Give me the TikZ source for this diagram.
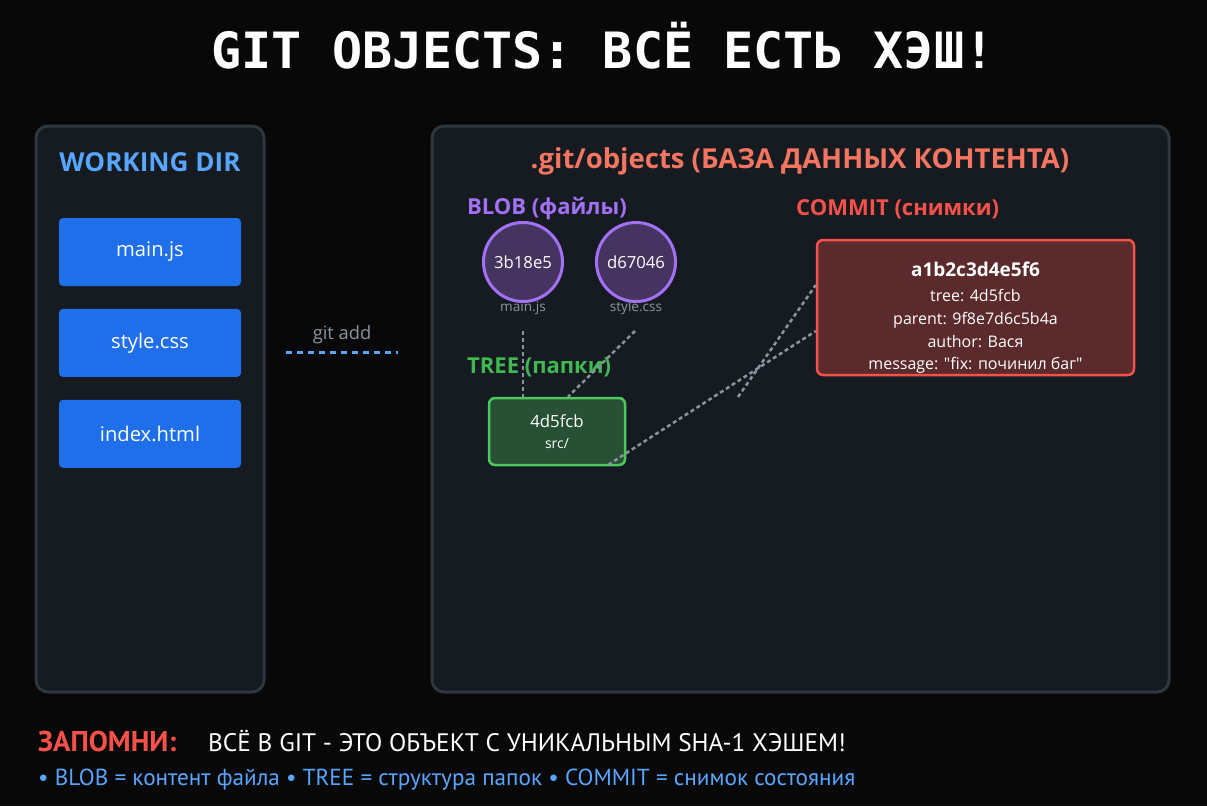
\documentclass[tikz,border=0pt]{standalone}
\usepackage{fontspec}
\setmainfont{Open Sans}[Ligatures=TeXOff]
\newfontfamily\titlefont{DejaVu Sans Mono}
\newfontfamily\notefont{PT Sans}
\usetikzlibrary{positioning}

\definecolor{pagebg}{HTML}{080808}
\definecolor{panelbg}{HTML}{161B22}
\definecolor{panelline}{HTML}{30363D}
\definecolor{fileblue}{HTML}{1F6FEB}
\definecolor{lightblue}{HTML}{58A6FF}
\definecolor{dbsalmon}{HTML}{F47560}
\definecolor{blobpurple}{HTML}{A371F7}
\definecolor{blobfill}{HTML}{45345F}
\definecolor{treegreen}{HTML}{3FB950}
\definecolor{treeline}{HTML}{4CC95C}
\definecolor{treefill}{HTML}{285034}
\definecolor{commitred}{HTML}{F85149}
\definecolor{commitfill}{HTML}{5A2A2D}
\definecolor{linkgray}{HTML}{8B949E}

\begin{document}
\begin{tikzpicture}[x=1pt,y=-1pt,node distance=22.5pt,
  panel/.style={draw=panelline,line width=3pt,fill=panelbg,rounded corners=12pt,inner sep=0pt},
  filebox/.style={fill=fileblue,rounded corners=4pt,minimum width=182pt,minimum height=68pt,text=white,font=\fontsize{20.2}{24}\selectfont},
  blob/.style={circle,draw=blobpurple,line width=3pt,fill=blobfill,minimum size=79pt,inner sep=0pt,text=white,font=\fontsize{16.7}{20}\selectfont},
  smalllabel/.style={text=linkgray,inner sep=0pt,font=\fontsize{13.6}{16}\selectfont},
  heading/.style={anchor=west,inner sep=0pt,font=\bfseries\fontsize{22}{26}\selectfont},
  link/.style={draw=linkgray,line width=2.5pt,dash pattern=on 4pt off 3pt}]

\fill[pagebg] (0,0) rectangle (1207,806);
\useasboundingbox (0,0) rectangle (1207,806);

\node[text=white,font=\titlefont\bfseries\fontsize{50}{60}\selectfont] (title) at (603,46) {GIT OBJECTS: ВСЁ ЕСТЬ ХЭШ!};

% working directory
\node[panel,minimum width=228pt,minimum height=566pt] (wdir) at (150,409) {};
\node[text=lightblue,font=\bfseries\fontsize{26.1}{30}\selectfont] (wdtitle) at (150,162) {WORKING DIR};
\node[filebox] (fmain) at (150,252) {main.js};
\node[filebox,below=of fmain] (fstyle) {style.css};
\node[filebox,below=of fstyle] (findex) {index.html};

% git add
\node[text=linkgray,font=\fontsize{18.3}{21}\selectfont] (addlabel) at (342,335) {git add};
\coordinate (addl) at (286,352);
\coordinate (addr) at (398,352);
\draw[lightblue,line width=3pt,dash pattern=on 6pt off 5pt] (addl) -- (addr);

% object database
\node[panel,minimum width=737pt,minimum height=566pt] (objdb) at (800.5,409) {};
\node[text=dbsalmon,font=\bfseries\fontsize{27.5}{32}\selectfont] (dbtitle) at (800,161) {.git/objects (БАЗА ДАННЫХ КОНТЕНТА)};

\node[heading,text=blobpurple] (blobhead) at (467,209) {BLOB (файлы)};
\node[blob] (blob1) at (523,262) {3b18e5};
\node[blob] (blob2) at (636,262) {d67046};
\node[smalllabel] (blob1lab) at (523,308) {main.js};
\node[smalllabel] (blob2lab) at (636,308) {style.css};

\node[heading,text=treegreen] (treehead) at (467,367) {TREE (папки)};
\node[draw=treeline,line width=2.5pt,fill=treefill,rounded corners=6pt,minimum width=136pt,minimum height=67pt] (tree) at (557,431.5) {};
\node[text=white,font=\fontsize{16.8}{20}\selectfont] (treehash) at (557,421) {4d5fcb};
\node[text=white,font=\fontsize{14}{17}\selectfont] (treedir) at (557,444) {src/};

\node[heading,text=commitred] (commithead) at (796,209) {COMMIT (снимки)};
\node[draw=commitred,line width=2.5pt,fill=commitfill,rounded corners=6pt,minimum width=317pt,minimum height=135pt] (commit) at (975.5,307.5) {};
\node[text=white,font=\bfseries\fontsize{19}{22}\selectfont] (commithash) at (975.5,269) {a1b2c3d4e5f6};
\node[text=white,align=center,font=\fontsize{16}{22.7}\selectfont] (commitbody) at (975.5,331.5)
  {tree: 4d5fcb\\parent: 9f8e7d6c5b4a\\author: Вася\\message: "fix: починил баг"};

% links between objects
\coordinate (blob2end) at (635,331);
\coordinate (loose) at (738,397);
\draw[link] ([yshift=-16pt]blob1lab.south) -- (blob1lab.south |- tree.north);
\draw[link] (blob2end) -- ([xshift=11pt]tree.north);
\draw[link] ([xshift=-18pt,yshift=1.5pt]tree.south east) -- ([yshift=-23.5pt]commit.west);
\draw[link] (loose) -- ([yshift=22.5pt]commit.west);

% footer
\node[anchor=west,inner sep=0pt,text=commitred,font=\notefont\bfseries\fontsize{28.6}{32}\selectfont] (remember) at (38,741) {ЗАПОМНИ:};
\node[anchor=west,inner sep=0pt,text=white,font=\notefont\fontsize{25.3}{29}\selectfont] (rule) at (208,741) {ВСЁ В GIT - ЭТО ОБЪЕКТ С УНИКАЛЬНЫМ SHA-1 ХЭШЕМ!};
\node[anchor=west,inner sep=0pt,text=lightblue,font=\notefont\fontsize{23.2}{27}\selectfont] (legend) at (38,780) {• BLOB = контент файла • TREE = структура папок • COMMIT = снимок состояния};
\end{tikzpicture}
\end{document}
